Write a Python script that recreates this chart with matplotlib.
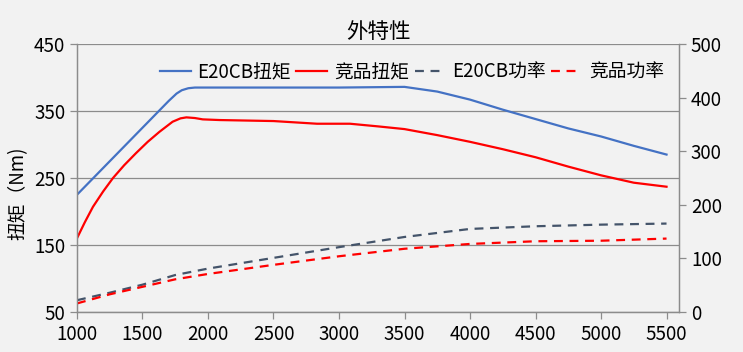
import numpy as np
import matplotlib
matplotlib.use("Agg")
import matplotlib.pyplot as plt

plt.rcParams['font.family'] = ['Noto Sans CJK SC', 'DejaVu Sans']

# E20CB torque (Nm)
e20_rpm = [1000, 1250, 1500, 1700, 1760, 1800, 1850, 1900, 2500, 3000, 3250, 3500,
           3750, 4000, 4250, 4500, 4750, 5000, 5250, 5500]
e20_torque = [225, 275, 325, 365, 376, 381, 384, 385, 385, 385, 385.5, 386,
              379, 367, 352, 338, 324, 312, 298, 285]

# competitor torque (Nm)
cmp_rpm = [1000, 1060, 1122, 1200, 1275, 1360, 1450, 1540, 1630, 1730, 1790, 1835,
           1900, 1960, 2090, 2500, 2832, 3084, 3300, 3500, 3750, 4000, 4250, 4500,
           4750, 5000, 5250, 5500]
cmp_torque = [160, 184, 207, 230, 250, 269, 287, 304, 319, 334, 339, 340.5,
              339.5, 337.5, 336.5, 335, 331, 331, 327, 323, 314, 304, 293, 281,
              267, 254, 243, 237]

# power (kW), right axis
pw_rpm = [1000, 1250, 1500, 1750, 2000, 2500, 3000, 3500, 4000, 4500, 5000, 5500]
e20_power = [22, 36, 51, 69, 81, 101, 121, 140, 155, 160, 163, 165]
cmp_power = [16, 33, 47, 61, 71, 88, 104, 118, 127, 132, 133, 137]

xticks = [1000, 1500, 2000, 2500, 3000, 3500, 4000, 4500, 5000, 5500]

bg = '#f2f2f2'
grid_c = '#8c8c8c'

fig = plt.figure(figsize=(7.43, 3.52), dpi=100, facecolor=bg)
ax = fig.add_axes([0.1036, 0.1136, 0.8104, 0.7614], facecolor=bg)
ax2 = ax.twinx()

l1, = ax.plot(e20_rpm, e20_torque, color='#4472C4', lw=1.6, label='E20CB扭矩')
l2, = ax.plot(cmp_rpm, cmp_torque, color='#FF0000', lw=1.6, label='竞品扭矩')
l3, = ax2.plot(pw_rpm, e20_power, color='#44546A', lw=1.6, ls=(0, (4, 3)), label='E20CB功率')
l4, = ax2.plot(pw_rpm, cmp_power, color='#FF0000', lw=1.6, ls=(0, (4, 3)), label='竞品功率')

ax.set_xlim(1000, 5596)
ax.set_ylim(50, 450)
ax.set_yticks([50, 150, 250, 350, 450])
ax.set_xticks(xticks)
ax2.set_ylim(0, 500)
ax2.set_yticks([0, 100, 200, 300, 400, 500])

ax.yaxis.grid(True, color=grid_c, lw=0.9)
ax.set_axisbelow(True)

for a in (ax, ax2):
    a.spines['top'].set_visible(False)
    for s in ('left', 'bottom', 'right'):
        a.spines[s].set_color(grid_c)
        a.spines[s].set_linewidth(0.9)
    a.tick_params(colors=grid_c, labelcolor='black', labelsize=13.5, length=5, width=0.9)

ax.set_title('外特性', fontsize=15.5, pad=4)
ax.set_ylabel('扭矩（Nm)', fontsize=13.5)
ax.yaxis.set_label_coords(-0.08, 0.444)

ax.legend(handles=[l1, l2, l3, l4], ncol=4, frameon=False, loc='center',
          bbox_to_anchor=(0.556, 0.894), fontsize=13.5, handlelength=1.65,
          handletextpad=0.35, columnspacing=0.3, borderpad=0)

fig.savefig('out.png', dpi=100, facecolor=bg)
